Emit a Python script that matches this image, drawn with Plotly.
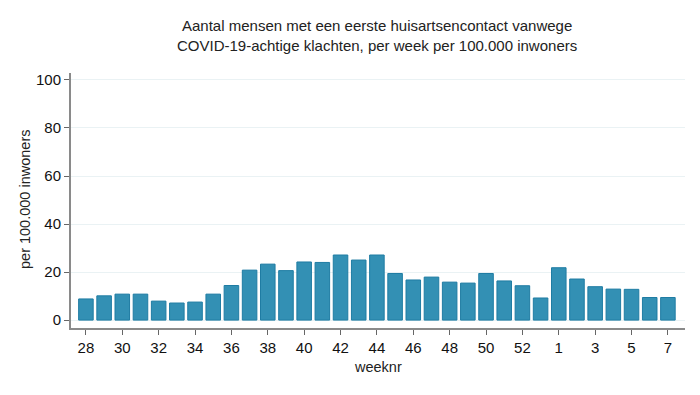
import plotly.graph_objects as go

weeks = [28, 29, 30, 31, 32, 33, 34, 35, 36, 37, 38, 39, 40, 41, 42, 43, 44, 45, 46, 47,
         48, 49, 50, 51, 52, 53, 1, 2, 3, 4, 5, 6, 7]
values = [8.8, 10.1, 10.8, 10.8, 7.9, 7.1, 7.5, 10.8, 14.4, 20.8, 23.3, 20.6, 24.2, 24.0,
          27.1, 25.0, 27.1, 19.4, 16.7, 17.9, 15.8, 15.4, 19.4, 16.3, 14.3, 9.2, 21.8, 17.1,
          13.9, 12.9, 12.8, 9.4, 9.4]
tick_weeks = [28, 30, 32, 34, 36, 38, 40, 42, 44, 46, 48, 50, 52, 1, 3, 5, 7]
y_ticks = [0, 20, 40, 60, 80, 100]
title_lines = ["Aantal mensen met een eerste huisartsencontact vanwege",
               "COVID-19-achtige klachten, per week per 100.000 inwoners"]

x_idx = list(range(len(weeks)))
tick_idx = []
start = 0
for w in tick_weeks:
    i = weeks.index(w, start)
    tick_idx.append(i)
    start = i

# plot area in pixels
L, R, T, B = 71, 685, 73, 328
W, H = 700, 395
pw, ph = R - L, B - T


def px(xp):
    return (xp - L) / pw


def py(yp):
    return (B - yp) / ph


fig = go.Figure(go.Bar(
    x=x_idx, y=values, width=0.8,
    marker=dict(color="#3390b4", line=dict(color="#1f7ca3", width=1)),
))

font = "Liberation Sans, Arial, sans-serif"
annotations = [
    dict(text=title_lines[0], x=px(377), y=py(25), xref="paper", yref="paper",
         xanchor="center", yanchor="middle", showarrow=False,
         font=dict(family=font, size=15, color="#222222")),
    dict(text=title_lines[1], x=px(377), y=py(46), xref="paper", yref="paper",
         xanchor="center", yanchor="middle", showarrow=False,
         font=dict(family=font, size=15, color="#222222")),
    dict(text="weeknr", x=px(378), y=py(367), xref="paper", yref="paper",
         xanchor="center", yanchor="middle", showarrow=False,
         font=dict(family=font, size=14.5, color="#222222")),
    dict(text="per 100.000 inwoners", x=px(25), y=py(200), xref="paper", yref="paper",
         xanchor="center", yanchor="middle", showarrow=False, textangle=-90,
         font=dict(family=font, size=14.5, color="#222222")),
]

fig.update_layout(
    width=W, height=H,
    margin=dict(l=L, r=W - R, t=T, b=H - B, autoexpand=False),
    paper_bgcolor="white", plot_bgcolor="white",
    showlegend=False,
    font=dict(family=font, size=15, color="#111111"),
    annotations=annotations,
    xaxis=dict(
        range=[-0.82, 32.94], tickmode="array", tickvals=tick_idx,
        ticktext=[str(w) for w in tick_weeks],
        showline=True, linecolor="#8a8a8a", linewidth=2,
        ticks="outside", ticklen=5, tickcolor="#666666",
        showgrid=False, zeroline=False, automargin=False,
        tickfont=dict(size=15),
    ),
    yaxis=dict(
        range=[-3.3, 102.9], tickmode="array", tickvals=y_ticks,
        showline=True, linecolor="#8a8a8a", linewidth=2,
        ticks="outside", ticklen=5, tickcolor="#666666",
        showgrid=True, gridcolor="#eaf2f4", gridwidth=1, zeroline=False,
        automargin=False,
        tickfont=dict(size=15),
    ),
)

fig.write_html(
    "out.html",
    config={"displayModeBar": False},
    post_script="document.body.style.margin='0';document.body.style.overflow='hidden';",
)
